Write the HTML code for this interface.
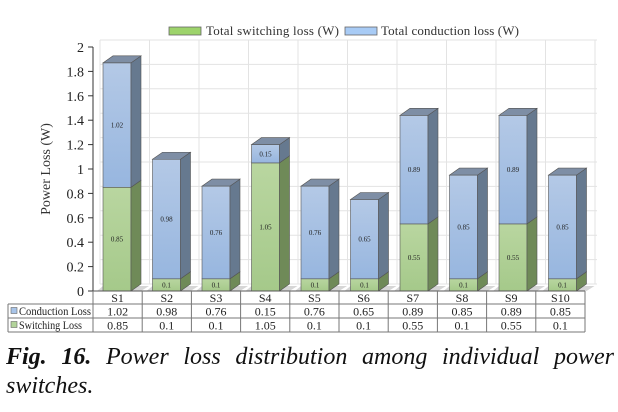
<!DOCTYPE html>
<html><head><meta charset="utf-8"><style>
body{margin:0;background:#fff;width:618px;height:412px;overflow:hidden}
svg{position:absolute;left:0;top:0;font-family:"Liberation Serif","Times New Roman","DejaVu Serif",serif}
svg text{font-family:"Liberation Serif","Times New Roman","DejaVu Serif",serif}
.cap{position:absolute;left:6px;top:343px;font-family:"Liberation Serif","Times New Roman","DejaVu Serif",serif;font-style:italic;font-size:24px;line-height:29px;color:#111;width:608px;text-align:justify;text-align-last:left}
</style></head><body>
<svg id="s" width="618" height="412" xmlns="http://www.w3.org/2000/svg">
<defs>
<linearGradient id="gb" x1="0" y1="0" x2="0" y2="1"><stop offset="0" stop-color="#b4c9e6"/><stop offset="1" stop-color="#97b6df"/></linearGradient>
<linearGradient id="gg" x1="0" y1="0" x2="0" y2="1"><stop offset="0" stop-color="#b9d6a0"/><stop offset="1" stop-color="#a5c98a"/></linearGradient>
</defs>
<rect x="169" y="27" width="32" height="8" fill="#9dd36b" stroke="#666" stroke-width="0.8"/>
<text x="206" y="35" font-size="13" fill="#333" textLength="133">Total switching loss (W)</text>
<rect x="345" y="27" width="32" height="8" fill="#a8cbf5" stroke="#666" stroke-width="0.8"/>
<text x="381" y="35" font-size="13" fill="#333" textLength="138">Total conduction loss (W)</text>
<text transform="translate(50,169) rotate(-90)" font-size="14" text-anchor="middle" fill="#333">Power Loss (W)</text>
<g id="g"></g>
</svg>
<div class="cap"><b>Fig. 16.</b> Power loss distribution among individual power switches.</div>
<script>
var g=document.getElementById('g'),h='';
function Y(v){return 291-122*v}
for(var k=0;k<=10;k++){var v=k*0.2,y=Y(v)-7;h+='<line x1="100" y1="'+y+'" x2="597" y2="'+y+'" stroke="#e3e3e3" stroke-width="1"/>';
h+='<line x1="88" y1="'+Y(v)+'" x2="93" y2="'+Y(v)+'" stroke="#333"/>';
h+='<text x="84" y="'+(Y(v)+5)+'" font-size="14" text-anchor="end" fill="#222">'+(Math.round(v*10)/10)+'</text>';}
for(var k=0;k<=10;k++){var x=100+49.5*k;h+='<line x1="'+x+'" y1="40" x2="'+x+'" y2="284" stroke="#e3e3e3"/>';}
var d=[[.85,1.02],[.1,.98],[.1,.76],[1.05,.15],[.1,.76],[.1,.65],[.55,.89],[.1,.85],[.55,.89],[.1,.85]];
var W=28,dx=10,dy=7;
function seg(x,a,b,fill,side,top,lab){var y1=Y(b),y0=Y(a),s='';
s+='<rect x="'+x+'" y="'+y1+'" width="'+W+'" height="'+(y0-y1)+'" fill="'+fill+'" stroke="#555" stroke-width="0.6"/>';
s+='<polygon points="'+(x+W)+','+y1+' '+(x+W+dx)+','+(y1-dy)+' '+(x+W+dx)+','+(y0-dy)+' '+(x+W)+','+y0+'" fill="'+side+'" stroke="#555" stroke-width="0.6"/>';
if(top)s+='<polygon points="'+x+','+y1+' '+(x+dx)+','+(y1-dy)+' '+(x+W+dx)+','+(y1-dy)+' '+(x+W)+','+y1+'" fill="'+top+'" stroke="#555" stroke-width="0.6"/>';
s+='<text x="'+(x+W/2)+'" y="'+((y0+y1)/2+2.5)+'" font-size="7" text-anchor="middle" fill="#222">'+lab+'</text>';return s;}
for(var i=0;i<10;i++){var x=103+49.5*i,a=d[i][0],b=d[i][1];
h+='<polygon points="'+(x-6)+',291 '+(x+W+dx)+',291 '+(x+W+dx+8)+',286 '+x+',286" fill="#bbb" opacity="0.6"/>';
h+=seg(x,0,a,'url(#gg)','#6f8a58',null,a);
h+=seg(x,a,a+b,'url(#gb)','#66798f','#7e8ea5',b);}
h+='<line x1="93" y1="47" x2="93" y2="291" stroke="#333"/>';
var cols=[];for(var k=0;k<=10;k++)cols.push(93+49.2*k);
h+='<line x1="93" y1="291" x2="585" y2="291" stroke="#555"/>';
h+='<line x1="8" y1="304" x2="585" y2="304" stroke="#777"/><line x1="8" y1="318" x2="585" y2="318" stroke="#777"/><line x1="8" y1="332" x2="585" y2="332" stroke="#777"/>';
h+='<line x1="8" y1="304" x2="8" y2="332" stroke="#777"/>';
for(var k=0;k<=10;k++)h+='<line x1="'+cols[k]+'" y1="291" x2="'+cols[k]+'" y2="332" stroke="#777"/>';
h+='<rect x="11" y="307.5" width="6" height="6" fill="#a8c4e8" stroke="#666" stroke-width="0.6"/><text x="19" y="315" font-size="12" fill="#222" textLength="72" lengthAdjust="spacingAndGlyphs">Conduction Loss</text>';
h+='<rect x="11" y="321.5" width="6" height="6" fill="#b2d39a" stroke="#666" stroke-width="0.6"/><text x="19" y="329" font-size="12" fill="#222" textLength="63" lengthAdjust="spacingAndGlyphs">Switching Loss</text>';
for(var i=0;i<10;i++){var cx=(cols[i]+cols[i+1])/2;
h+='<text x="'+cx+'" y="302" font-size="12" text-anchor="middle" fill="#222">S'+(i+1)+'</text>';
h+='<text x="'+cx+'" y="315.5" font-size="12" text-anchor="middle" fill="#222">'+d[i][1]+'</text>';
h+='<text x="'+cx+'" y="329.5" font-size="12" text-anchor="middle" fill="#222">'+d[i][0]+'</text>';}
g.innerHTML=h;
</script>
</body></html>
